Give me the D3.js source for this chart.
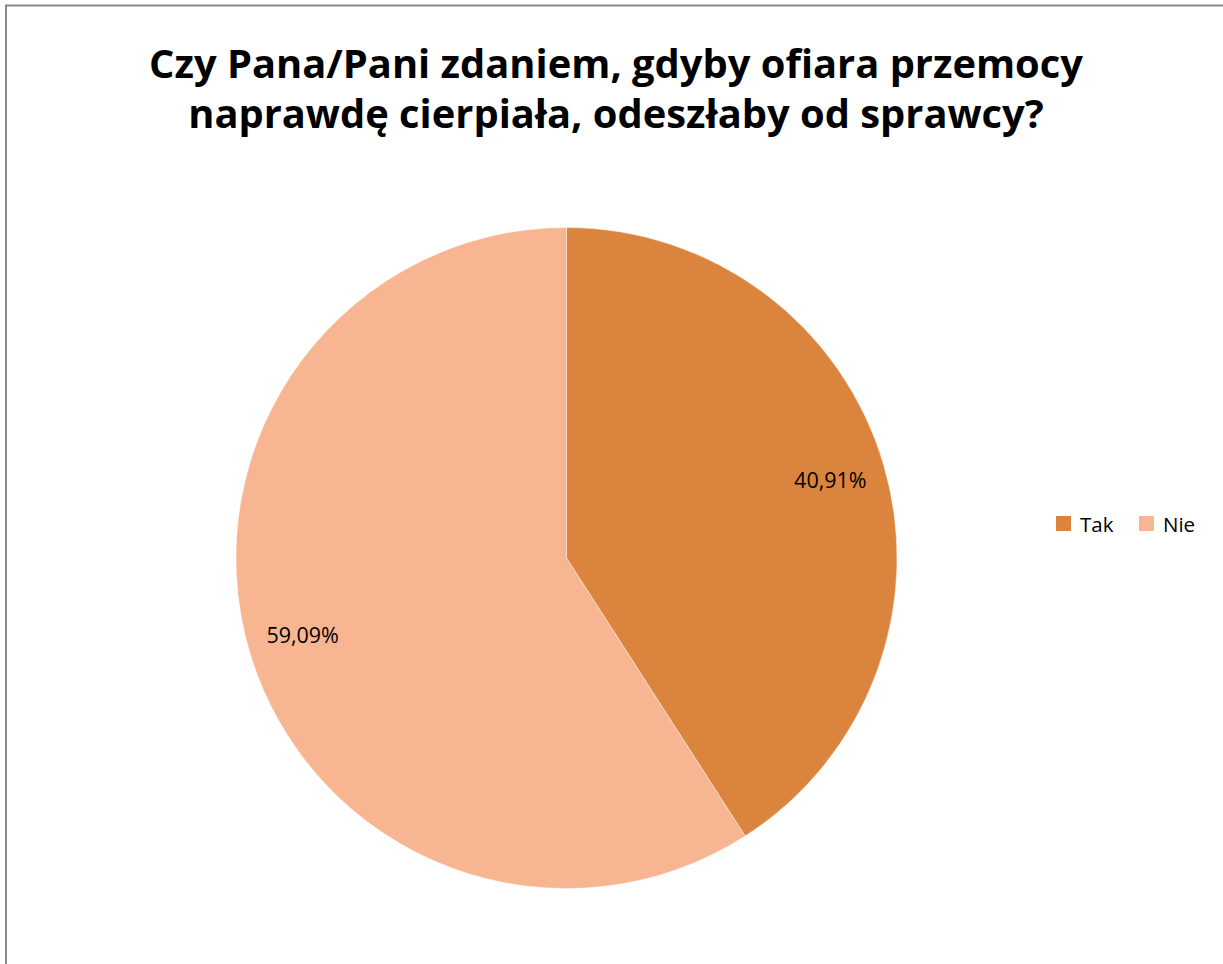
<!DOCTYPE html>
<html>
<head>
<meta charset="utf-8">
<script src="https://cdn.jsdelivr.net/npm/d3@7"></script>
<style>
  body { margin: 0; background: #fff; }
  text { font-family: "Open Sans", "Liberation Sans", sans-serif; }
</style>
</head>
<body>
<div id="chart"></div>
<script>
var svgWidth = 1223;
var svgHeight = 964;

// data
var categories = ["Tak", "Nie"];
var values = [40.91, 59.09];
var labels = ["40,91%", "59,09%"];
var colors = ["#DB843D", "#F8B592"];
var titleLines = ["Czy Pana/Pani zdaniem, gdyby ofiara przemocy", "naprawdę cierpiała, odeszłaby od sprawcy?"];

var svg = d3.select("#chart")
  .append("svg")
  .attr("width", svgWidth)
  .attr("height", svgHeight);

// outer frame (right and bottom edges fall off the page)
svg.append("rect")
  .attr("x", 6)
  .attr("y", 5.5)
  .attr("width", 1300)
  .attr("height", 1100)
  .attr("fill", "none")
  .attr("stroke", "#898989")
  .attr("stroke-width", 2);

// title
var title = svg.append("g");
title.selectAll("text")
  .data(titleLines)
  .enter()
  .append("text")
  .attr("x", 616)
  .attr("y", function (d, i) { return 78 + i * 50; })
  .attr("text-anchor", "middle")
  .attr("font-weight", "bold")
  .attr("font-size", 40)
  .attr("fill", "#000")
  .text(function (d) { return d; });

// fit title width to reference (first line ~934px)
var t0 = title.select("text").node();
var w0 = t0.getComputedTextLength();
title.selectAll("text").attr("font-size", 40 * 934 / w0);

var cx = 566.5, cy = 558, r = 330.5;

var pie = d3.pie().sort(null).value(function (d) { return d; });
var arcs = pie(values);
var arc = d3.arc().innerRadius(0).outerRadius(r);
var labelArc = d3.arc().innerRadius(275).outerRadius(275);

var g = svg.append("g").attr("transform", "translate(" + cx + "," + cy + ")");

g.selectAll("path")
  .data(arcs)
  .enter()
  .append("path")
  .attr("d", arc)
  .attr("fill", function (d, i) { return colors[i]; })
  .attr("stroke", "#fff")
  .attr("stroke-width", 0.4);

g.selectAll("text.lbl")
  .data(arcs)
  .enter()
  .append("text")
  .attr("class", "lbl")
  .attr("transform", function (d) { return "translate(" + labelArc.centroid(d) + ")"; })
  .attr("text-anchor", "middle")
  .attr("dy", "0.35em")
  .attr("font-size", 21.5)
  .attr("fill", "#000")
  .text(function (d, i) { return labels[i]; });

// legend
var legendX = [1056, 1139];
var legend = svg.append("g");
legend.selectAll("rect")
  .data(categories)
  .enter()
  .append("rect")
  .attr("x", function (d, i) { return legendX[i]; })
  .attr("y", 516)
  .attr("width", 15)
  .attr("height", 15)
  .attr("fill", function (d, i) { return colors[i]; });

legend.selectAll("text")
  .data(categories)
  .enter()
  .append("text")
  .attr("x", function (d, i) { return legendX[i] + 24; })
  .attr("y", 532)
  .attr("font-size", 20.5)
  .attr("fill", "#000")
  .text(function (d) { return d; });
</script>
</body>
</html>
